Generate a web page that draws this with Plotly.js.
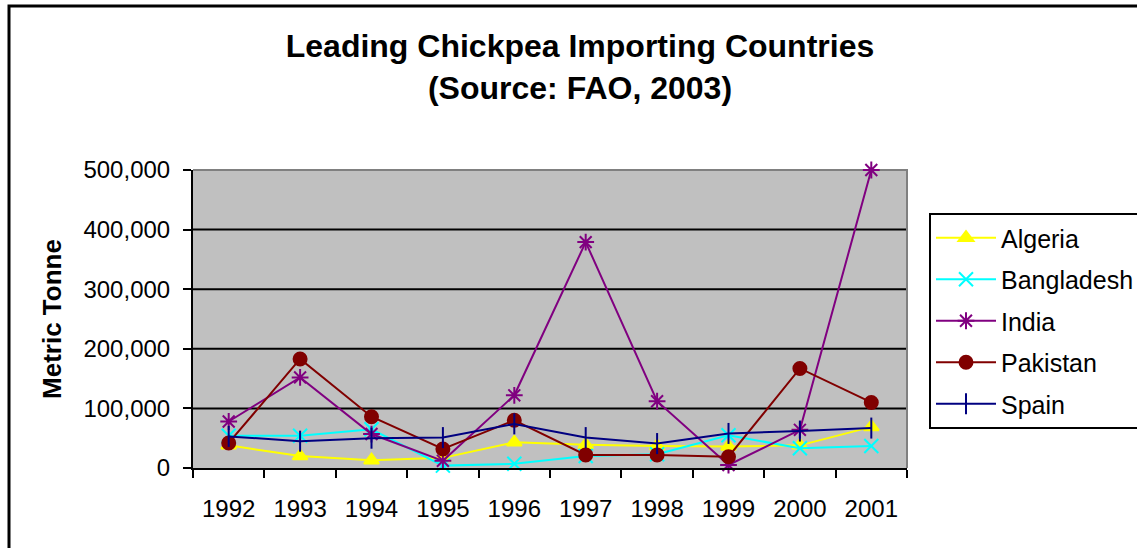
<!DOCTYPE html>
<html>
<head>
<meta charset="utf-8">
<script src="https://cdn.plot.ly/plotly-3.0.1.min.js"></script>
<style>
  html, body { margin: 0; padding: 0; background: #ffffff; }
  #chart { width: 1137px; height: 548px; }
</style>
</head>
<body>
<div id="chart"></div>
<script>
const years = ['1992', '1993', '1994', '1995', '1996', '1997', '1998', '1999', '2000', '2001'];
const algeria    = [38000, 20000, 13000, 17000, 43000, 39000, 37000, 36000, 38000, 69000];
const bangladesh = [54000, 54000, 65000, 4000, 7000, 20000, 23000, 55000, 33000, 37000];
const india      = [78000, 152000, 57000, 12000, 122000, 379000, 112000, 5000, 64000, 500000];
const pakistan   = [42000, 183000, 86000, 32000, 80000, 22000, 22000, 19000, 167000, 110000];
const spain      = [53000, 45000, 50000, 51000, 74000, 51000, 41000, 58000, 62000, 67000];

const yTicks = [0, 100000, 200000, 300000, 400000, 500000];
const gridValues = [100000, 200000, 300000, 400000];

const seriesNames = ['Algeria', 'Bangladesh', 'India', 'Pakistan', 'Spain'];
const seriesData = [algeria, bangladesh, india, pakistan, spain];
const seriesColors = ['#FFFF00', '#00FFFF', '#800080', '#800000', '#000080'];
const seriesSymbols = ['triangle-up', 'x-thin-open', 'asterisk-open', 'circle', 'line-ns-open'];
const seriesSizes = [13, 14, 14, 13, 15];

const traces = seriesNames.map((name, i) => ({
  type: 'scatter',
  mode: 'lines+markers',
  name: name,
  legendgroup: name,
  x: years,
  y: seriesData[i],
  line: { color: seriesColors[i], width: 2 },
  marker: {
    symbol: seriesSymbols[i],
    size: seriesSizes[i],
    color: seriesColors[i],
    line: { color: seriesColors[i], width: 2 }
  },
  cliponaxis: false
}));

const font = 'Arial, "Liberation Sans", sans-serif';

const gridShapes = gridValues.map(v => ({
  type: 'line', xref: 'paper', yref: 'y', layer: 'below',
  x0: 0, x1: 1, y0: v, y1: v,
  line: { color: '#000000', width: 2 }
}));

const layout = {
  width: 1137,
  height: 548,
  paper_bgcolor: '#ffffff',
  plot_bgcolor: '#C0C0C0',
  margin: { l: 193, r: 230, t: 170, b: 80, pad: 0, autoexpand: false },
  font: { family: font, color: '#000000', size: 24 },
  title: {
    text: '<b>Leading Chickpea Importing Countries<br>(Source: FAO, 2003)</b>',
    font: { family: font, size: 32, color: '#000000' },
    xref: 'paper', x: 0.542, xanchor: 'center',
    yref: 'container', y: 1 - 57 / 548, yanchor: 'middle'
  },
  xaxis: {
    type: 'category',
    range: [-0.5, 9.5],
    tickson: 'boundaries',
    ticks: 'outside', ticklen: 8, tickwidth: 2, tickcolor: '#000000',
    showline: true, linecolor: '#000000', linewidth: 2,
    showgrid: false, zeroline: false,
    tickfont: { family: font, size: 24, color: '#000000' },
    ticklabelstandoff: 18,
    automargin: false
  },
  yaxis: {
    range: [0, 500000],
    tickvals: yTicks,
    tickformat: ',d',
    ticks: 'outside', ticklen: 8, tickwidth: 2, tickcolor: '#000000',
    showline: true, linecolor: '#000000', linewidth: 2,
    showgrid: false,
    zeroline: false,
    tickfont: { family: font, size: 24, color: '#000000' },
    ticklabelstandoff: 8,
    automargin: false,
    title: { text: '<b>Metric Tonne</b>', font: { family: font, size: 26, color: '#000000' }, standoff: 14 }
  },
  showlegend: true,
  legend: {
    x: (929 - 193) / 714, xanchor: 'left',
    y: (468 - 213) / 298, yanchor: 'top',
    bgcolor: '#ffffff', bordercolor: '#000000', borderwidth: 2,
    font: { family: font, size: 25, color: '#000000' },
    traceorder: 'grouped', tracegroupgap: 6,
    itemwidth: 60
  },
  shapes: gridShapes.concat([
    { type: 'path', xref: 'paper', yref: 'paper', layer: 'below',
      path: 'M 0 1 L 1 1 L 1 0', line: { color: '#808080', width: 2 } },
    { type: 'rect', xref: 'paper', yref: 'paper', layer: 'above',
      x0: (9 - 193) / 714, x1: 1.6, y0: -0.5, y1: (468 - 6) / 298,
      line: { color: '#000000', width: 3 }, fillcolor: 'rgba(0,0,0,0)' }
  ])
};

Plotly.newPlot('chart', traces, layout, { displayModeBar: false, staticPlot: true });
</script>
</body>
</html>
